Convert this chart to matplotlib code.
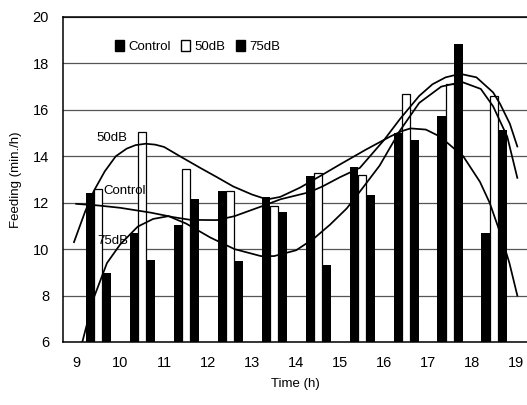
import matplotlib
matplotlib.use("Agg")
import matplotlib.pyplot as plt
import numpy as np
from matplotlib.patches import Patch

plt.rcParams["font.family"] = ["Liberation Sans", "DejaVu Sans"]

# bar groups (centre of each hour slot)
hours = [9.5, 10.5, 11.5, 12.5, 13.5, 14.5, 15.5, 16.5, 17.5, 18.5]
control = [12.4, 10.7, 11.05, 12.5, 12.25, 13.15, 13.55, 15.0, 15.75, 10.7]
db50 = [12.6, 15.05, 13.45, 12.5, 11.85, 13.3, 13.2, 16.7, 17.1, 16.6]
db75 = [8.95, 9.55, 12.15, 9.5, 11.6, 9.3, 12.35, 14.7, 18.85, 15.15]

# trend curves
control_x = [9.0, 9.5, 10.0, 10.7, 11.2, 11.6, 12.2, 12.6, 13.3, 13.65, 14.3, 14.6,
             15.0, 15.45, 16.0, 16.36, 16.8, 17.1, 17.4, 17.73, 18.1, 18.48, 18.64, 18.86, 19.03]
control_y = [11.95, 11.88, 11.78, 11.57, 11.38, 11.26, 11.25, 11.42, 11.9, 12.15, 12.45, 12.7,
             13.1, 13.5, 14.7, 15.6, 16.6, 17.1, 17.4, 17.55, 17.4, 16.75, 16.25, 15.4, 14.42]

db50_x = [8.95, 9.2, 9.4, 9.65, 9.9, 10.15, 10.35, 10.58, 10.8, 11.0, 11.36, 11.82, 12.2, 12.57,
          13.0, 13.34, 13.64, 14.09, 14.55, 15.0, 15.6, 16.14, 16.4, 16.6, 16.95, 17.27, 17.8,
          18.18, 18.4, 18.64, 18.85, 19.03]
db50_y = [10.3, 11.6, 12.5, 13.35, 14.0, 14.33, 14.48, 14.54, 14.5, 14.4, 14.0, 13.5, 13.1, 12.7,
          12.35, 12.14, 12.25, 12.65, 13.15, 13.65, 14.3, 14.85, 15.08, 15.2, 15.15, 14.85, 14.0,
          12.9, 12.0, 10.7, 9.4, 8.0]

db75_x = [9.0, 9.14, 9.4, 9.7, 10.0, 10.4, 10.75, 11.1, 11.5, 12.05, 12.6, 13.2, 13.5, 14.0, 14.4,
          14.77, 15.15, 15.5, 15.9, 16.36, 16.8, 17.3, 17.77, 18.2, 18.48, 18.8, 19.03]
db75_y = [5.0, 6.0, 7.9, 9.4, 10.2, 10.97, 11.3, 11.42, 11.1, 10.5, 10.0, 9.7, 9.7, 9.95, 10.45,
          11.05, 11.75, 12.6, 13.6, 15.1, 16.3, 17.0, 17.2, 16.9, 16.15, 14.85, 13.07]


def main() -> None:
    fig = plt.figure(figsize=(5.27, 4.05), dpi=100)
    ax = fig.add_axes([0.1195, 0.1556, 0.8805, 0.8025])

    x = np.array(hours)
    ax.bar(x, db50, width=0.17, color="white", edgecolor="black", linewidth=0.9, zorder=2)
    ax.bar(x - 0.185, control, width=0.2, color="black", zorder=3)
    ax.bar(x + 0.185, db75, width=0.2, color="black", zorder=3)

    ax.plot(control_x, control_y, color="black", linewidth=1.25, zorder=4)
    ax.plot(db50_x, db50_y, color="black", linewidth=1.25, zorder=4)
    ax.plot(db75_x, db75_y, color="black", linewidth=1.25, zorder=4)

    ax.text(9.45, 14.8, "50dB", fontsize=9.5, va="center", zorder=5)
    ax.text(9.62, 12.5, "Control", fontsize=9.5, va="center", zorder=5)
    ax.text(9.47, 10.35, "75dB", fontsize=9.5, va="center", zorder=5)

    ax.set_xlim(8.7, 19.25)
    ax.set_ylim(6, 20)
    ax.set_xticks(range(9, 20))
    ax.set_yticks(range(6, 21, 2))
    ax.tick_params(length=0, labelsize=10.5, pad=10)
    ax.yaxis.grid(True, color="#555555", linewidth=0.9)
    ax.set_axisbelow(True)
    ax.spines["right"].set_visible(False)
    for side in ("left", "top", "bottom"):
        ax.spines[side].set_linewidth(1.1)

    ax.set_xlabel("Time (h)", fontsize=9.5, labelpad=6)
    ax.set_ylabel("Feeding (min./h)", fontsize=9.5, labelpad=8)

    handles = [
        Patch(facecolor="black", edgecolor="black", label="Control"),
        Patch(facecolor="white", edgecolor="black", label="50dB"),
        Patch(facecolor="black", edgecolor="black", label="75dB"),
    ]
    ax.legend(handles=handles, ncol=3, frameon=False, loc="center",
              bbox_to_anchor=(0.29, 0.908), fontsize=9.5, handlelength=0.7,
              handleheight=0.9, handletextpad=0.3, columnspacing=0.8)

    fig.savefig("out.png", dpi=100)
    plt.close(fig)


if __name__ == "__main__":
    main()
